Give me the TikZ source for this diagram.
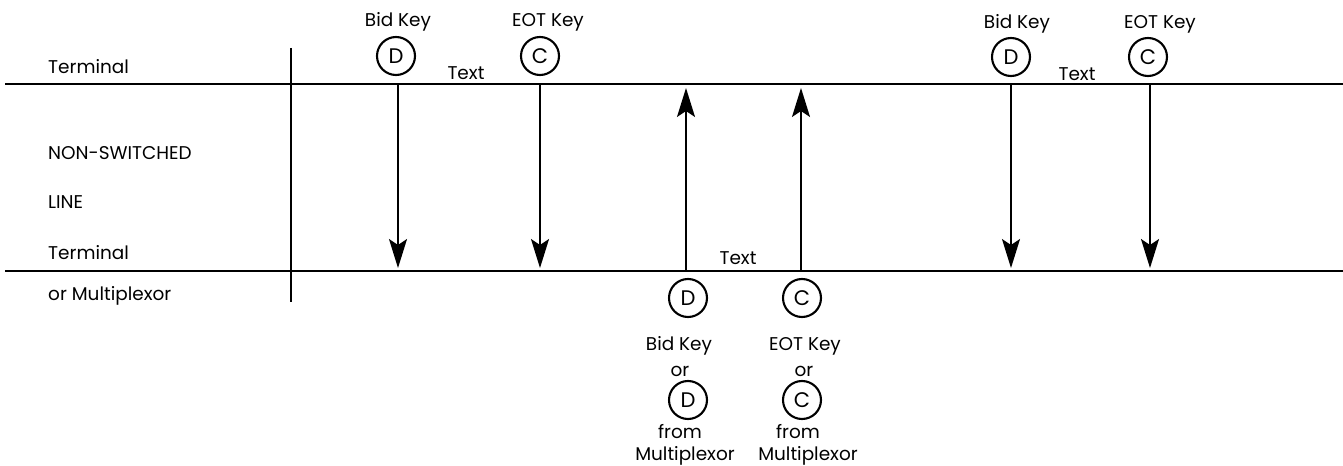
\documentclass[tikz,border=0pt]{standalone}
\usepackage{fontspec}
\setmainfont{Poppins}
\usetikzlibrary{arrows.meta}

\def\topy{84}
\def\boty{271}

\begin{document}
\begin{tikzpicture}[x=0.02cm,y=-0.02cm,line width=1.4pt,font=\fontsize{10.5}{12}\selectfont]
    \tikzstyle{key}=[circle,draw,line width=1.2pt,minimum size=0.76cm,inner sep=0pt,font=\fontsize{12}{14}\selectfont]
    \tikzstyle{side}=[anchor=west,inner sep=0pt]
    \tikzstyle{word}=[inner sep=0pt]
    \tikzstyle{signal}=[-{Stealth[length=5.8mm,width=3.6mm,inset=1.2mm]},line width=1.1pt]

    \useasboundingbox (0,0) rectangle (1343,466);

    % Draw the two lines and the divider
    \coordinate (TL) at (5,\topy);
    \coordinate (TR) at (1343,\topy);
    \coordinate (BL) at (5,\boty);
    \coordinate (BR) at (1343,\boty);
    \coordinate (V-1) at (291,48);
    \coordinate (V-2) at (291,302);
    \draw (TL) -- (TR);
    \draw (BL) -- (BR);
    \draw (V-1) -- (V-2);

    % Side labels
    \node[side] (term-1) at (47,67) {Terminal};
    \node[side] (nonsw) at (47,153) {NON-SWITCHED};
    \node[side] (line) at (47,202) {LINE};
    \node[side] (term-2) at (47,253) {Terminal};
    \node[side] (mplx) at (47,296) {or Multiplexor};

    % Keys at the upper terminal
    \node[key] (D-1) at (396,56) {D};
    \node[key] (C-1) at (540,56) {C};
    \node[key] (D-2) at (1011,57) {D};
    \node[key] (C-2) at (1148,57) {C};
    \node[word] (bid-1) at (398,22) {Bid Key};
    \node[word] (eot-1) at (548,22) {EOT Key};
    \node[word] (bid-2) at (1017,24) {Bid Key};
    \node[word] (eot-2) at (1160,24) {EOT Key};
    \node[word] (text-1) at (466,73) {Text};
    \node[word] (text-2) at (1077,74) {Text};

    % Keys at the lower terminal or multiplexor
    \node[key] (D-3) at (688,298) {D};
    \node[key] (C-3) at (802,298) {C};
    \node[word] (text-3) at (738,258) {Text};
    \node[word] (bid-3) at (679,346) {Bid Key};
    \node[word] (eot-3) at (805,346) {EOT Key};
    \node[word] (or-1) at (680,371) {or};
    \node[word] (or-2) at (804,371) {or};
    \node[key] (D-4) at (688,400) {D};
    \node[key] (C-4) at (802,400) {C};
    \node[word] (from-1) at (680,432) {from};
    \node[word] (from-2) at (798,432) {from};
    \node[word] (mx-1) at (685,456) {Multiplexor};
    \node[word] (mx-2) at (808,456) {Multiplexor};

    % Signals down the line
    \foreach \name / \x in {a/398,b/540,c/1011,d/1150}
    {
        \coordinate (\name-s) at (\x,\topy);
        \coordinate (\name-e) at (\x,\boty-3);
        \draw[signal] (\name-s) -- (\name-e);
    }

    % Signals up the line
    \foreach \name / \x in {e/686,f/801}
    {
        \coordinate (\name-s) at (\x,\boty);
        \coordinate (\name-e) at (\x,\topy+4);
        \draw[signal] (\name-s) -- (\name-e);
    }
\end{tikzpicture}
\end{document}
